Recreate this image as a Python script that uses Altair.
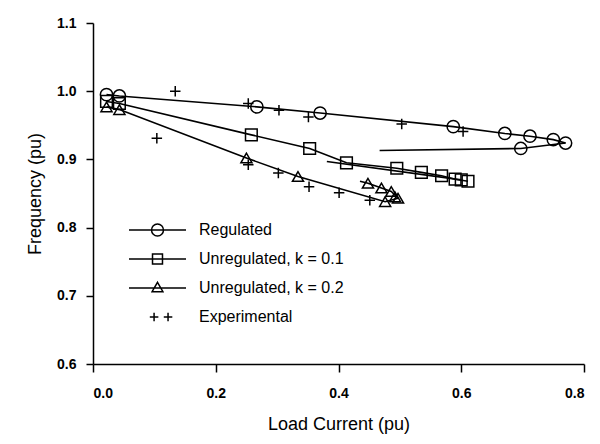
import altair as alt
import pandas as pd

SERIES = ["Regulated", "Unregulated, k = 0.1", "Unregulated, k = 0.2", "Experimental"]

# ---- line traces (forward sweep and return sweep) ----
reg_fwd_x = [0.022, 0.043, 0.267, 0.370, 0.587, 0.671, 0.712, 0.750, 0.770]
reg_fwd_y = [0.995, 0.993, 0.977, 0.968, 0.948, 0.938, 0.934, 0.929, 0.924]
reg_ret_x = [0.770, 0.697, 0.467]
reg_ret_y = [0.924, 0.916, 0.913]

sq_fwd_x = [0.022, 0.043, 0.258, 0.353, 0.413, 0.495, 0.535, 0.568, 0.590, 0.611]
sq_fwd_y = [0.985, 0.982, 0.936, 0.916, 0.895, 0.887, 0.881, 0.876, 0.871, 0.868]
sq_ret_x = [0.600, 0.381]
sq_ret_y = [0.870, 0.897]

tri_fwd_x = [0.022, 0.043, 0.250, 0.334, 0.476, 0.497]
tri_fwd_y = [0.977, 0.973, 0.902, 0.875, 0.838, 0.843]
tri_ret_x = [0.497, 0.486, 0.470, 0.448, 0.435]
tri_ret_y = [0.843, 0.853, 0.858, 0.865, 0.868]

# ---- markers ----
reg_pts_x = reg_fwd_x + [0.697]
reg_pts_y = reg_fwd_y + [0.916]
sq_pts_x = sq_fwd_x + [0.600]
sq_pts_y = sq_fwd_y + [0.870]
tri_pts_x = tri_fwd_x + [0.492, 0.486, 0.470, 0.448]
tri_pts_y = tri_fwd_y + [0.845, 0.853, 0.858, 0.865]
exp_x = [0.104, 0.134, 0.253, 0.303, 0.351, 0.253, 0.302, 0.352, 0.401, 0.451, 0.503, 0.603]
exp_y = [0.931, 1.000, 0.982, 0.972, 0.962, 0.892, 0.880, 0.860, 0.851, 0.840, 0.952, 0.941]

x_ticks = [0.0, 0.2, 0.4, 0.6, 0.8]
y_ticks = [0.6, 0.7, 0.8, 0.9, 1.0, 1.1]

line_rows = []
for name, xs, ys in [("reg_fwd", reg_fwd_x, reg_fwd_y), ("reg_ret", reg_ret_x, reg_ret_y),
                     ("sq_fwd", sq_fwd_x, sq_fwd_y), ("sq_ret", sq_ret_x, sq_ret_y),
                     ("tri_fwd", tri_fwd_x, tri_fwd_y), ("tri_ret", tri_ret_x, tri_ret_y)]:
    for i, (x, y) in enumerate(zip(xs, ys)):
        line_rows.append({"path": name, "ord": i, "x": x, "y": y})
lines_df = pd.DataFrame(line_rows)

pt_rows = []
for s, xs, ys in zip(SERIES, [reg_pts_x, sq_pts_x, tri_pts_x, exp_x], [reg_pts_y, sq_pts_y, tri_pts_y, exp_y]):
    for x, y in zip(xs, ys):
        pt_rows.append({"series": s, "x": x, "y": y})
pts_df = pd.DataFrame(pt_rows)

FONT = "Liberation Sans"
xs = alt.Scale(domain=[0, 0.8], nice=False, zero=False)
ys = alt.Scale(domain=[0.6, 1.1], nice=False, zero=False)

x_enc = alt.X("x:Q", scale=xs, axis=alt.Axis(
    title="Load Current (pu)", values=x_ticks, format=".1f", grid=False,
    tickSize=8, labelPadding=14, titlePadding=15))
y_enc = alt.Y("y:Q", scale=ys, axis=alt.Axis(
    title="Frequency (pu)", values=y_ticks, format=".1f", grid=False,
    tickSize=7, labelPadding=10, titlePadding=12))

line_layer = alt.Chart(lines_df).mark_line(color="black", strokeWidth=1.6).encode(
    x=x_enc, y=y_enc, detail="path:N", order="ord:Q")

plus_path = "M-1,0H1M0,-1V1"
point_layer = alt.Chart(pts_df).mark_point(filled=False, color="black", strokeWidth=1.5, opacity=1).encode(
    x=x_enc, y=y_enc,
    shape=alt.Shape("series:N", scale=alt.Scale(domain=SERIES, range=["circle", "square", "triangle-up", plus_path]), legend=None),
    size=alt.Size("series:N", scale=alt.Scale(domain=SERIES, range=[150, 110, 140, 110]), legend=None),
)

leg_paths = [
    "M-1,0H1M-0.21,0A0.21,0.21 0 1 1 0.21,0A0.21,0.21 0 1 1 -0.21,0",
    "M-1,0H1M-0.175,-0.175H0.175V0.175H-0.175Z",
    "M-1,0H1M0,-0.2L0.19,0.13H-0.19Z",
    "M-0.27,0H0.03M-0.12,-0.15V0.15M0.22,0H0.52M0.37,-0.15V0.15",
]
legend_layer = alt.Chart(pts_df).mark_point(filled=False, color="black", opacity=0).encode(
    x=x_enc, y=y_enc,
    shape=alt.Shape("series:N", scale=alt.Scale(domain=SERIES, range=leg_paths), title=None,
                    legend=alt.Legend(orient="none", legendX=35, legendY=197, padding=0,
                                      symbolSize=3249, clipHeight=20, rowPadding=9,
                                      labelOffset=12, labelFontSize=16, labelFont=FONT,
                                      labelColor="black", labelLimit=300,
                                      symbolStrokeColor="black", symbolStrokeWidth=1.5,
                                      symbolFillColor="transparent")),
)

chart = alt.layer(line_layer, point_layer, legend_layer).resolve_scale(shape="independent", size="independent").properties(
    width=491, height=341,
    autosize=alt.AutoSizeParams(type="none"),
    padding={"left": 85, "top": 15, "right": 8, "bottom": 78},
    background="white",
).configure_view(stroke=None).configure_axis(
    domainColor="black", tickColor="black", labelColor="black", titleColor="black",
    domainWidth=1.5, tickWidth=1.5,
    labelFont=FONT, labelFontSize=14, labelFontWeight="bold",
    titleFont=FONT, titleFontSize=18, titleFontWeight="normal",
)

chart.save("out.html", embed_options={"renderer": "svg", "actions": False})
